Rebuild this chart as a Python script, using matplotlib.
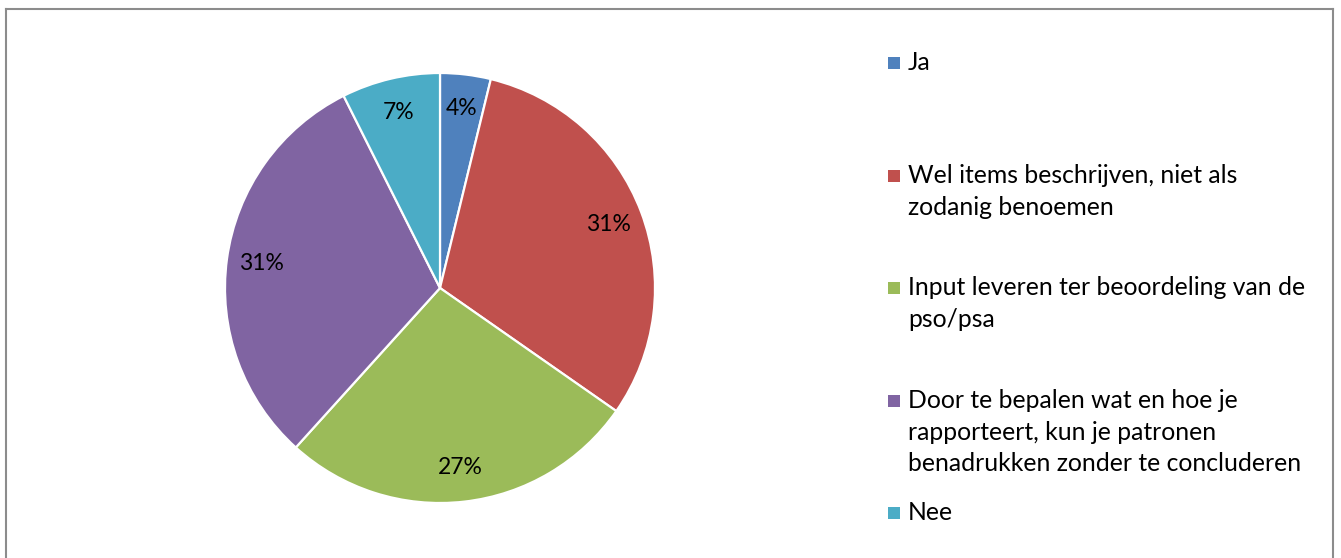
import matplotlib
matplotlib.use("Agg")
import matplotlib.pyplot as plt
from matplotlib.patches import Rectangle
from matplotlib.lines import Line2D

plt.rcParams['font.family'] = ['Lato', 'DejaVu Sans']

categories = [
    "Ja",
    "Wel items beschrijven, niet als\nzodanig benoemen",
    "Input leveren ter beoordeling van de\npso/psa",
    "Door te bepalen wat en hoe je\nrapporteert, kun je patronen\nbenadrukken zonder te concluderen",
    "Nee",
]
shares = [3.8, 30.9, 27.0, 30.9, 7.4]
colors = ["#4F81BD", "#C0504D", "#9BBB59", "#8064A2", "#4BACC6"]

W, H = 1341, 558
fig = plt.figure(figsize=(W / 100, H / 100), dpi=100)

# chart border (no bottom edge visible)
bc = "#8c8c8c"
fig.add_artist(Line2D([6 / W, 6 / W], [0, 1 - 9 / H], transform=fig.transFigure, color=bc, lw=1.5))
fig.add_artist(Line2D([6 / W, 1333 / W], [1 - 9 / H, 1 - 9 / H], transform=fig.transFigure, color=bc, lw=1.5))
fig.add_artist(Line2D([1333 / W, 1333 / W], [0, 1 - 9 / H], transform=fig.transFigure, color=bc, lw=1.5))

cx, cy, r = 440, 288, 215
ax = fig.add_axes([(cx - r) / W, (H - cy - r) / H, 2 * r / W, 2 * r / H])
wedges, texts, autotexts = ax.pie(
    shares, colors=colors, startangle=90, counterclock=False,
    autopct=lambda p: f"{p:.0f}%", pctdistance=0.84,
    wedgeprops=dict(edgecolor="white", linewidth=1.6),
    textprops=dict(fontsize=16.5, color="black"),
)
ax.set_xlim(-1, 1)
ax.set_ylim(-1, 1)
ax.set_aspect("auto")
ax.axis("off")

# legend entries placed as in the original layout
first_baselines = [70, 183, 295, 408, 520]
line_h = 31.7
for lab, col, yb in zip(categories, colors, first_baselines):
    fig.add_artist(Rectangle((888 / W, 1 - (yb - 1) / H), 12 / W, 12 / H,
                             transform=fig.transFigure, facecolor=col, edgecolor="none"))
    for i, line in enumerate(lab.split("\n")):
        fig.text(908 / W, 1 - (yb + i * line_h) / H, line, fontsize=17.8,
                 va="baseline", ha="left", color="black")

fig.savefig("out.png", dpi=100, facecolor="white")
